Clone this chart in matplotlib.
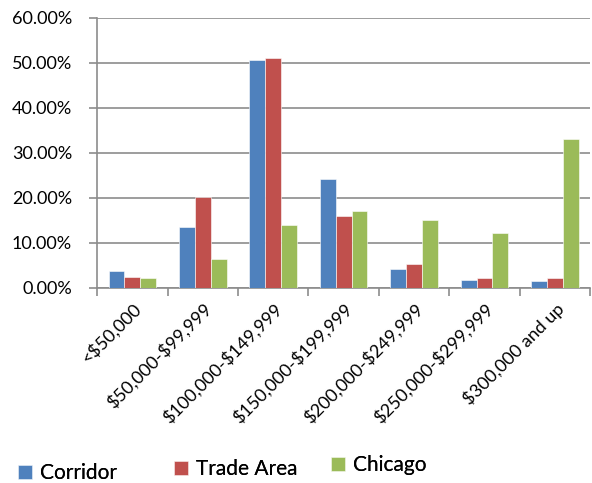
import matplotlib
matplotlib.use('Agg')
import matplotlib.pyplot as plt
import numpy as np
from matplotlib.ticker import PercentFormatter

plt.rcParams['font.family'] = ['Lato', 'DejaVu Sans']
plt.rcParams['text.parse_math'] = False

categories = ['<$50,000', '$50,000-$99,999', '$100,000-$149,999', '$150,000-$199,999',
              '$200,000-$249,999', '$250,000-$299,999', '$300,000 and up']
corridor = [3.7, 13.5, 50.7, 24.1, 4.3, 1.8, 1.6]
trade_area = [2.5, 20.3, 51.1, 15.9, 5.4, 2.2, 2.1]
chicago = [2.1, 6.4, 14.0, 17.0, 15.0, 12.1, 33.0]

series = [('Corridor', corridor, '#4F81BD'),
          ('Trade Area', trade_area, '#C0504D'),
          ('Chicago', chicago, '#9BBB59')]

fig = plt.figure(figsize=(5.92, 4.83), dpi=100)
ax = fig.add_axes([0.164, 0.404, 0.833, 0.559])

x = np.arange(len(categories))
w = 0.225
bars = []
for i, (name, vals, col) in enumerate(series):
    b = ax.bar(x + (i - 1) * w, vals, width=w, color=col, label=name,
               edgecolor='white', linewidth=0.4, zorder=3)
    bars.append(b)

ax.set_xlim(-0.5, len(categories) - 0.5)
ax.set_ylim(0, 60)
ax.set_yticks(np.arange(0, 61, 10))
ax.yaxis.set_major_formatter(PercentFormatter(decimals=2))
ax.grid(axis='y', color='#8c8c8c', linewidth=1.2, zorder=0)
for s in ['top', 'right']:
    ax.spines[s].set_visible(False)
for s in ['left', 'bottom']:
    ax.spines[s].set_color('#8c8c8c')
    ax.spines[s].set_linewidth(1.2)

ax.set_xticks(np.arange(-0.5, len(categories), 1), minor=False)
ax.set_xticklabels([])
ax.set_xticks(x, minor=True)
ax.set_xticklabels(categories, minor=True, rotation=45, ha='right',
                   rotation_mode='anchor', fontsize=13)
ax.tick_params(axis='x', which='minor', length=0, pad=9)
ax.tick_params(axis='x', which='major', length=6, color='#8c8c8c', width=1.2)
ax.tick_params(axis='y', length=6, color='#8c8c8c', width=1.2, labelsize=13, pad=12)

# legend entries sit at slightly different heights in the original
leg_pos = [(18 / 592, 0.020), (174 / 592, 0.029), (331 / 592, 0.037)]
for b, (name, _, _), (lx, ly) in zip(bars, series, leg_pos):
    lg = fig.legend([b], [name], loc='center left', bbox_to_anchor=(lx, ly),
                    frameon=False, fontsize=15, handlelength=0.65, handleheight=0.65,
                    handletextpad=0.4, borderpad=0, borderaxespad=0)
    fig.add_artist(lg)

fig.savefig('out.png', dpi=100)
